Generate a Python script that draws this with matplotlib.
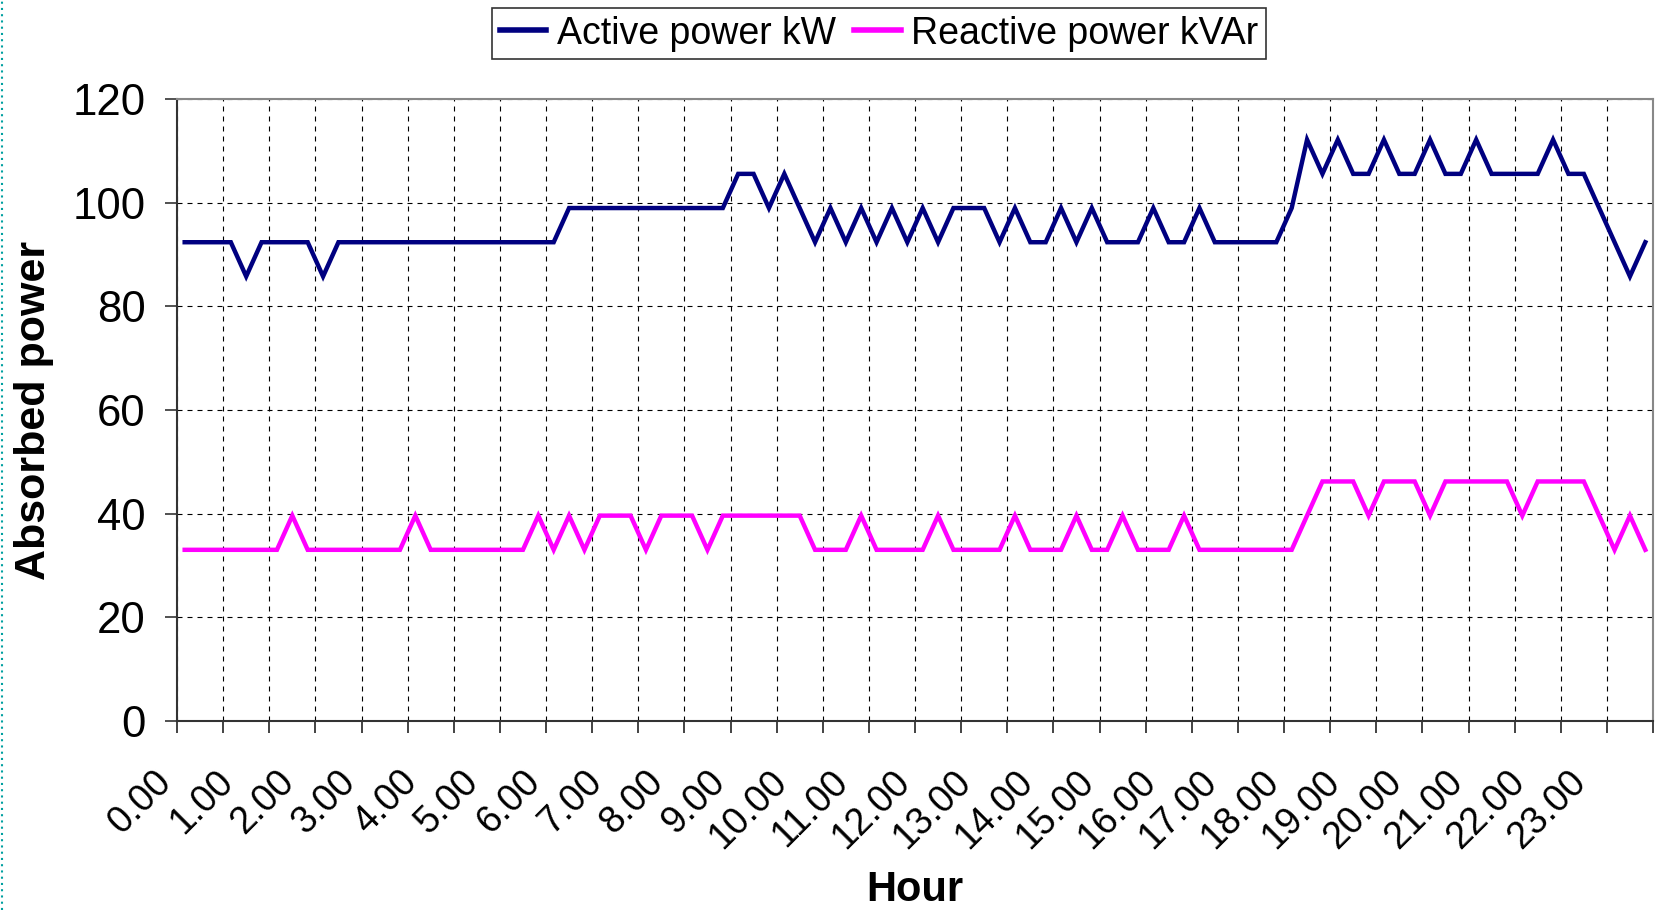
import numpy as np
import matplotlib
matplotlib.use("Agg")
import matplotlib.pyplot as plt
from matplotlib.lines import Line2D
import matplotlib.transforms as mtransforms

plt.rcParams['font.family'] = ['Liberation Sans', 'DejaVu Sans']

# ---- data (15-minute readings over one day) ----
hour_labels = ["0.00", "1.00", "2.00", "3.00", "4.00", "5.00", "6.00", "7.00",
               "8.00", "9.00", "10.00", "11.00", "12.00", "13.00", "14.00", "15.00",
               "16.00", "17.00", "18.00", "19.00", "20.00", "21.00", "22.00", "23.00"]

active_kw = [
    92.4, 92.4, 92.4, 92.4, 85.8, 92.4, 92.4, 92.4, 92.4, 85.8, 92.4, 92.4,
    92.4, 92.4, 92.4, 92.4, 92.4, 92.4, 92.4, 92.4, 92.4, 92.4, 92.4, 92.4,
    92.4, 99.0, 99.0, 99.0, 99.0, 99.0, 99.0, 99.0, 99.0, 99.0, 99.0, 99.0,
    105.6, 105.6, 99.0, 105.6, 99.0, 92.4, 99.0, 92.4, 99.0, 92.4, 99.0, 92.4,
    99.0, 92.4, 99.0, 99.0, 99.0, 92.4, 99.0, 92.4, 92.4, 99.0, 92.4, 99.0,
    92.4, 92.4, 92.4, 99.0, 92.4, 92.4, 99.0, 92.4, 92.4, 92.4, 92.4, 92.4,
    99.0, 112.2, 105.6, 112.2, 105.6, 105.6, 112.2, 105.6, 105.6, 112.2, 105.6, 105.6,
    112.2, 105.6, 105.6, 105.6, 105.6, 112.2, 105.6, 105.6, 99.0, 92.4, 85.8, 92.4,
]

reactive_kvar = [
    33.0, 33.0, 33.0, 33.0, 33.0, 33.0, 33.0, 39.6, 33.0, 33.0, 33.0, 33.0,
    33.0, 33.0, 33.0, 39.6, 33.0, 33.0, 33.0, 33.0, 33.0, 33.0, 33.0, 39.6,
    33.0, 39.6, 33.0, 39.6, 39.6, 39.6, 33.0, 39.6, 39.6, 39.6, 33.0, 39.6,
    39.6, 39.6, 39.6, 39.6, 39.6, 33.0, 33.0, 33.0, 39.6, 33.0, 33.0, 33.0,
    33.0, 39.6, 33.0, 33.0, 33.0, 33.0, 39.6, 33.0, 33.0, 33.0, 39.6, 33.0,
    33.0, 39.6, 33.0, 33.0, 33.0, 39.6, 33.0, 33.0, 33.0, 33.0, 33.0, 33.0,
    33.0, 39.6, 46.2, 46.2, 46.2, 39.6, 46.2, 46.2, 46.2, 39.6, 46.2, 46.2,
    46.2, 46.2, 46.2, 39.6, 46.2, 46.2, 46.2, 46.2, 39.6, 33.0, 39.6, 33.0,
]

series_names = ["Active power kW", "Reactive power kVAr"]
y_ticks = [0, 20, 40, 60, 80, 100, 120]

# ---- figure ----
W, H, DPI = 1659, 910, 100
fig = plt.figure(figsize=(W / DPI, H / DPI), dpi=DPI)
L, R, T, B = 177, 1653, 99.3, 720.7
ax = fig.add_axes([L / W, 1 - B / H, (R - L) / W, (B - T) / H])

n = len(active_kw)
x = np.arange(n) + 0.5

ax.plot(x, active_kw, color='#000080', lw=3.2, label=series_names[0],
        solid_joinstyle='miter', zorder=3)
ax.plot(x, reactive_kvar, color='#FF00FF', lw=3.2, label=series_names[1],
        solid_joinstyle='miter', zorder=3)

ax.set_xlim(0, n)
ax.set_ylim(0, 120)

# y axis
ax.set_yticks(y_ticks)
ax.set_yticklabels([str(v) for v in y_ticks])
ax.tick_params(axis='y', direction='out', length=8.6, width=1.2,
               color='#333333', labelsize=31.5, pad=14)

# x axis: tick marks every 3 categories, labels every 4 categories
ax.set_xticks(np.arange(0, n + 1, 3))
ax.set_xticklabels([])
ax.set_xticks(np.arange(0, n, 4) + 0.5, minor=True)
ax.set_xticklabels(hour_labels, minor=True, rotation=45, ha='right', va='top',
                   fontsize=27)
ax.tick_params(axis='x', which='major', direction='out', length=8.6, width=1.2,
               color='#222222')
ax.tick_params(axis='x', which='minor', length=0, pad=31)
offset = mtransforms.ScaledTranslation(-6 / DPI, 0, fig.dpi_scale_trans)
for lab in ax.get_xticklabels(minor=True):
    lab.set_transform(lab.get_transform() + offset)

# grid
ax.grid(True, which='major', axis='both', color='black', lw=0.8,
        linestyle=(0, (4.5, 4.5)), zorder=1)
ax.set_axisbelow(True)

for s in ['left', 'bottom']:
    ax.spines[s].set_color('#333333')
    ax.spines[s].set_linewidth(1.5)
for s in ['top', 'right']:
    ax.spines[s].set_color('#888888')
    ax.spines[s].set_linewidth(1.5)

# axis labels
ax.set_ylabel("Absorbed power", fontsize=31, fontweight='bold')
ax.yaxis.label.set_va('center')
ax.yaxis.set_label_coords((34 - L) / (R - L), (B - 410) / (B - T))
ax.set_xlabel("Hour", fontsize=30, fontweight='bold')
ax.xaxis.label.set_va('baseline')
ax.xaxis.set_label_coords(0.5, (B - 901) / (B - T))

# legend
leg = ax.legend(loc='center', bbox_to_anchor=(879 / W, 1 - 33.5 / H),
                bbox_transform=fig.transFigure, ncol=2, fontsize=27,
                frameon=True, fancybox=False, shadow=False, borderpad=0.2,
                handlelength=1.25, handletextpad=0.27, columnspacing=0.5,
                borderaxespad=0)
leg.get_frame().set_edgecolor('black')
leg.get_frame().set_linewidth(1.2)
for h in leg.get_lines():
    h.set_linewidth(4)

# dotted border artifact on the left edge
fig.add_artist(Line2D([1.5 / W, 1.5 / W], [0, 1], transform=fig.transFigure,
                      color='#00A0A0', lw=1.5, linestyle=(0, (1, 2))))

fig.savefig("out.png", dpi=DPI)
